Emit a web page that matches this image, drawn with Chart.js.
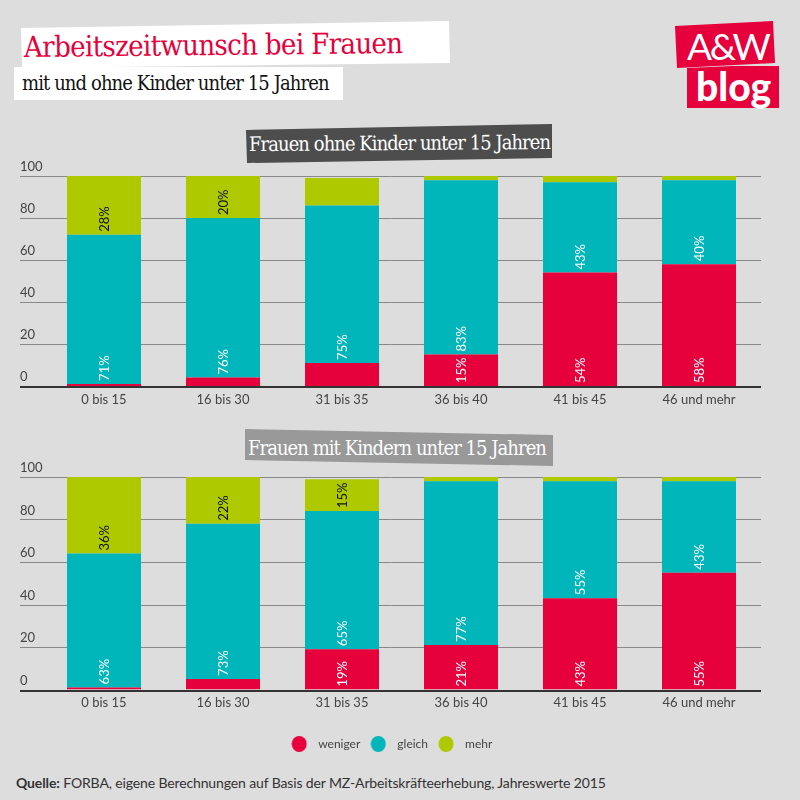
<!DOCTYPE html>
<html lang="de"><head><meta charset="utf-8">
<script src="https://cdn.jsdelivr.net/npm/chart.js@4"></script>
<style>
html,body{margin:0;padding:0;background:#ddd;width:800px;height:800px;overflow:hidden}
.abs{position:absolute;white-space:nowrap}
canvas{position:absolute;left:0}
.slab{font-family:"DejaVu Serif Condensed","DejaVu Serif",serif}
</style></head><body>
<div class="abs" style="left:21px;top:21px;width:429px;height:47px;background:#fff;clip-path:polygon(0 7px,428px 0,100% 42px,1px 100%)"></div>
<div class="abs slab" style="left:24px;top:27px;font-size:29px;letter-spacing:-.65px;line-height:40px;color:#e6003c;transform:rotate(-.6deg);transform-origin:0 50%">Arbeitszeitwunsch bei Frauen</div>
<div class="abs" style="left:14px;top:67px;width:329px;height:33px;background:#fff"></div>
<div class="abs slab" style="left:22px;top:67px;font-size:20px;letter-spacing:-.9px;line-height:32px;color:#111">mit und ohne Kinder unter 15 Jahren</div>

<div class="abs" style="left:675px;top:21px;width:100px;height:47px;background:#e6003c;clip-path:polygon(0 5px,98px 0,100% 42px,2px 100%)"></div>
<div class="abs" style="left:687px;top:66px;width:92px;height:42px;background:#e6003c;clip-path:polygon(0 2px,46px 0,100% 0,100% 100%,0 100%)"></div>
<div class="abs" style="left:687px;top:26px;font:400 37px/40px Lato,'Noto Sans',sans-serif;letter-spacing:-2.4px;color:#fff">A&amp;W</div>
<div class="abs" style="left:696px;top:64px;font:900 39px/44px Lato,'Noto Sans',sans-serif;color:#fff">blog</div>

<div class="abs" style="left:246px;top:124px;width:306px;height:39px;background:#4d4d4d;clip-path:polygon(0 6px,100% 0,100% 34px,1px 100%)"></div>
<div class="abs slab" style="left:249px;top:126px;font-size:20px;letter-spacing:-.95px;line-height:34px;color:#fff;transform:rotate(-.4deg)">Frauen ohne Kinder unter 15 Jahren</div>
<div class="abs" style="left:245px;top:429px;width:308px;height:37px;background:#999;clip-path:polygon(0 0,100% 6px,100% 100%,0 31px)"></div>
<div class="abs slab" style="left:248px;top:431px;font-size:20px;letter-spacing:-.95px;line-height:34px;color:#fff">Frauen mit Kindern unter 15 Jahren</div>

<canvas id="c1" width="800" height="250" style="top:160px;width:800px;height:250px"></canvas>
<canvas id="c2" width="800" height="300" style="top:460px;width:800px;height:300px"></canvas>

<div class="abs" style="left:16px;top:773px;font:14px/20px Lato,'Noto Sans',sans-serif;letter-spacing:-.13px;color:#333"><b>Quelle:</b> FORBA, eigene Berechnungen auf Basis der MZ-Arbeitskräfteerhebung, Jahreswerte 2015</div>

<script>
const categories = ["0 bis 15","16 bis 30","31 bis 35","36 bis 40","41 bis 45","46 und mehr"];
const seriesNames = ["weniger","gleich","mehr"];
const ohneWeniger = [1,4,11,15,54,58];
const ohneGleich  = [71,76,75,83,43,40];
const ohneMehr    = [28,20,13,2,3,2];
const mitWeniger  = [1,5,19,21,43,55];
const mitGleich   = [63,73,65,77,55,43];
const mitMehr     = [36,22,15,2,2,2];
const yTicks = [0,20,40,60,80,100];
const seriesColors = ["#e6003c","#00b6ba","#aec900"];
const labelColors  = ["#ffffff","#ffffff","#111111"];
const labelMinimum = 15;
const uiFont = "Lato, 'Noto Sans', sans-serif";

function legendDot(color){
  const c=document.createElement("canvas");c.width=16;c.height=16;
  const g=c.getContext("2d");g.fillStyle=color;
  g.beginPath();g.ellipse(8,8,7.5,8,0,0,Math.PI*2);g.fill();
  return c;
}

const marks = {
  id:"marks",
  beforeDatasetsDraw(chart){
    const {ctx,scales:{y}} = chart;
    ctx.save();
    ctx.strokeStyle="#888"; ctx.lineWidth=1;
    yTicks.slice(1).forEach(v=>{
      const p=Math.round(y.getPixelForValue(v))+.5;
      ctx.beginPath();ctx.moveTo(20,p);ctx.lineTo(761,p);ctx.stroke();
    });
    ctx.restore();
  },
  afterDatasetsDraw(chart){
    const {ctx,scales:{y}} = chart;
    ctx.save();
    const b=Math.round(y.getPixelForValue(0))+1;
    ctx.strokeStyle="#333";ctx.lineWidth=2;
    ctx.beginPath();ctx.moveTo(20,b);ctx.lineTo(761,b);ctx.stroke();
    ctx.font="13px "+uiFont;ctx.textBaseline="middle";ctx.textAlign="left";
    chart.data.datasets.forEach((ds,i)=>{
      chart.getDatasetMeta(i).data.forEach((bar,j)=>{
        if(ds.data[j]<labelMinimum) return;
        ctx.save();
        ctx.translate(bar.x+1,bar.base-3);
        ctx.rotate(-Math.PI/2);
        ctx.fillStyle=labelColors[i];
        ctx.fillText(ds.data[j]+"%",0,0);
        ctx.restore();
      });
    });
    ctx.restore();
  }
};

function build(id,values,top,axisHeight,legend){
  return new Chart(document.getElementById(id),{
    type:"bar",
    data:{labels:categories,datasets:values.map((d,i)=>({
      label:seriesNames[i],data:d,backgroundColor:seriesColors[i],
      borderWidth:0,barPercentage:.622,categoryPercentage:1
    }))},
    plugins:[marks],
    options:{
      responsive:false,animation:false,
      layout:{padding:{left:20,right:41.5,top:top,bottom:0}},
      scales:{
        x:{stacked:true,grid:{display:false,drawTicks:false},border:{display:false},
           afterFit(s){s.height=axisHeight;},
           ticks:{color:"#444",font:{family:uiFont,size:13},padding:6,maxRotation:0}},
        y:{stacked:true,min:0,max:100,grid:{display:false,drawTicks:false},border:{display:false},
           afterFit(s){s.width=24.5;},
           afterBuildTicks(s){s.ticks=yTicks.map(v=>({value:v}));},
           ticks:{color:"#444",font:{family:uiFont,size:13},padding:0,crossAlign:"far",labelOffset:-9}}
      },
      plugins:{
        title:{display:false},tooltip:{enabled:false},
        legend:legend?{display:true,position:"bottom",
          labels:{usePointStyle:true,pointStyleWidth:26,boxHeight:12,padding:5,
                  color:"#444",font:{family:uiFont,size:12},
                  generateLabels(chart){
                    return Chart.defaults.plugins.legend.labels.generateLabels(chart)
                      .map((item,i)=>Object.assign(item,{pointStyle:legendDot(seriesColors[i])}));
                  }}}:{display:false}
      }
    }
  });
}
build("c1",[ohneWeniger,ohneGleich,ohneMehr],16,24,false);
build("c2",[mitWeniger,mitGleich,mitMehr],17,43.5,true);
</script>
</body></html>
